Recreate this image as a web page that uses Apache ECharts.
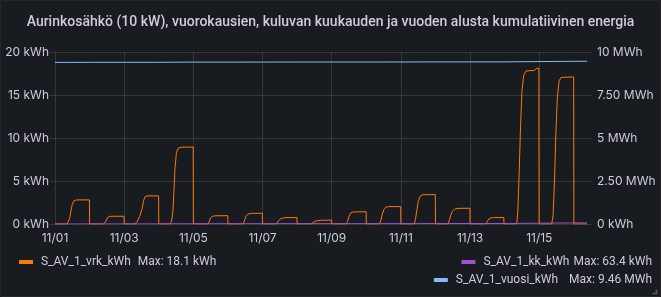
<!DOCTYPE html>
<html>
<head>
<meta charset="utf-8">
<script src="https://cdn.jsdelivr.net/npm/echarts@6/dist/echarts.min.js"></script>
<style>
html,body{margin:0;padding:0;background:#181b1f;}
#wrap{position:absolute;left:0;top:0;width:659px;height:295px;border:1px solid #24262b;border-radius:2px;background:#181b1f;}
#chart{position:absolute;left:-1px;top:-1px;width:661px;height:297px;}
</style>
</head>
<body>
<div id="wrap"><div id="chart"></div></div>
<script>
// Title and series names
const titleText = 'Aurinkosähkö (10 kW), vuorokausien, kuluvan kuukauden ja vuoden alusta kumulatiivinen energia';
const seriesNames = ['S_AV_1_vrk_kWh', 'S_AV_1_kk_kWh', 'S_AV_1_vuosi_kWh'];

// x = days since 11/01 00:00
const xTickLabels = ['11/01','11/02','11/03','11/04','11/05','11/06','11/07','11/08','11/09','11/10','11/11','11/12','11/13','11/14','11/15','11/16'];
const leftTickLabels = ['0 kWh','5 kWh','10 kWh','15 kWh','20 kWh'];
const rightTickLabels = ['0 kWh','2.50 MWh','5 MWh','7.50 MWh','10 MWh'];

// Daily cumulative energy (kWh), resets at midnight
const vrkData = [
  [0,0],[0.35,0],[0.38,0.1],[0.42,0.6],[0.46,1.5],[0.50,2.3],[0.55,2.7],[0.62,2.8],[0.995,2.8],[1.0,0],
  [1.40,0],[1.44,0.15],[1.47,0.3],[1.52,0.75],[1.58,0.88],[1.66,0.9],[1.995,0.9],[2.0,0],
  [2.31,0],[2.38,0.3],[2.45,0.9],[2.52,1.8],[2.56,2.7],[2.60,3.15],[2.66,3.27],[2.995,3.27],[3.0,0],
  [3.33,0],[3.37,0.3],[3.41,1.5],[3.44,4.0],[3.47,6.5],[3.51,8.3],[3.56,8.8],[3.65,8.93],[3.995,8.95],[4.0,0],
  [4.42,0],[4.46,0.3],[4.50,0.75],[4.56,0.9],[4.62,0.95],[4.995,0.97],[5.0,0],
  [5.43,0],[5.47,0.3],[5.52,0.9],[5.58,1.15],[5.66,1.24],[5.995,1.25],[6.0,0],
  [6.40,0],[6.45,0.3],[6.50,0.55],[6.57,0.68],[6.66,0.74],[6.995,0.75],[7.0,0],
  [7.40,0],[7.45,0.15],[7.52,0.32],[7.60,0.40],[7.70,0.43],[7.995,0.45],[8.0,0],
  [8.42,0],[8.46,0.3],[8.50,0.9],[8.55,1.3],[8.62,1.4],[8.995,1.42],[9.0,0],
  [9.38,0],[9.42,0.4],[9.46,1.1],[9.51,1.7],[9.56,1.95],[9.64,2.02],[9.995,2.02],[10.0,0],
  [10.38,0],[10.42,0.5],[10.46,1.6],[10.50,2.6],[10.55,3.2],[10.62,3.4],[10.995,3.42],[11.0,0],
  [11.35,0],[11.40,0.4],[11.44,1.0],[11.49,1.5],[11.55,1.72],[11.65,1.82],[11.995,1.83],[12.0,0],
  [12.46,0],[12.50,0.35],[12.55,0.62],[12.62,0.72],[12.68,0.74],[12.975,0.75],[12.98,0],
  [13.35,0],[13.38,1.5],[13.42,6],[13.46,11.5],[13.50,15.5],[13.55,17.3],[13.62,17.8],[13.85,17.85],[13.88,18.05],[13.93,18.1],[13.99,18.1],[13.995,0],
  [14.36,0],[14.40,1.0],[14.44,5],[14.48,10.5],[14.52,14.5],[14.57,16.6],[14.63,17.05],[14.995,17.1],[15.0,0],
  [15.38,0]
];

// Month-to-date cumulative energy (kWh)
const kkData = [
  [0,0],[1,2.8],[2,3.7],[3,7.0],[4,15.9],[5,16.9],[6,18.1],[7,18.9],[8,19.3],[9,20.7],
  [10,22.7],[11,26.1],[12,27.9],[13,28.6],[14,46.4],[15,63.4],[15.38,63.4]
];

// Year-to-date cumulative energy (kWh)
const vuosiData = [
  [0,9397],[1,9399.8],[2,9400.7],[3,9404],[4,9412.9],[5,9413.9],[6,9415.1],[7,9415.9],[8,9416.3],
  [9,9417.7],[10,9419.7],[11,9423.1],[12,9424.9],[13,9425.6],[14,9443.4],[15,9460],[15.38,9460]
];

const colors = ['#ff780a', '#a352cc', '#8ab8ff'];
const textColor = '#ccccdc';
const gridColor = 'rgba(240,250,255,0.12)';
const font = 'Roboto, "Noto Sans", sans-serif';
const font2 = 'Inter, "Noto Sans", sans-serif';

function maxOf(d){ return Math.max.apply(null, d.map(p => p[1])); }
function fmtEnergy(v){
  if (v >= 1000) return (Math.round(v/10)/100) + ' MWh';
  return (Math.round(v*10)/10) + ' kWh';
}
const maxTexts = [fmtEnergy(maxOf(vrkData)), fmtEnergy(maxOf(kkData)), fmtEnergy(maxOf(vuosiData))];

function legendCfg(i, pos, gap){
  return Object.assign({
    data: [seriesNames[i]],
    icon: 'rect', itemWidth: 14, itemHeight: 4, padding: 0,
    selectedMode: false,
    formatter: n => '{n|' + n + '}{m|Max: ' + maxTexts[i] + '}',
    textStyle: {
      color: textColor, fontFamily: font, fontSize: 12,
      rich: {
        n: {color: textColor, fontFamily: font, fontSize: 12, padding: [0,0,0,3]},
        m: {color: textColor, fontFamily: font, fontSize: 12, padding: [0,0,0,gap]}
      }
    }
  }, pos);
}

const chart = echarts.init(document.getElementById('chart'), null, {renderer: 'canvas'});
chart.setOption({
  backgroundColor: 'transparent',
  animation: false,
  title: {
    text: titleText, left: 'center', top: 10,
    textStyle: {color: textColor, fontFamily: font, fontSize: 14, fontWeight: 500}
  },
  grid: {left: 55, right: 74, top: 52, bottom: 73, containLabel: false},
  legend: [
    legendCfg(0, {left: 19, top: 256}, 7),
    legendCfg(1, {right: 9, top: 256}, 4),
    legendCfg(2, {right: 9, top: 274}, 11)
  ],
  xAxis: {
    type: 'value', min: 0, max: 15.38, interval: 2,
    axisLine: {show: false}, axisTick: {show: false},
    splitLine: {show: true, showMaxLine: false, lineStyle: {color: gridColor, width: 1}},
    axisLabel: {
      color: textColor, fontFamily: font2, fontSize: 12, margin: 8,
      formatter: v => (Math.abs(v - Math.round(v)) < 1e-6 && Math.round(v) % 2 === 0) ? xTickLabels[Math.round(v)] : '',
      showMaxLabel: false
    }
  },
  yAxis: [
    {
      type: 'value', min: 0, max: 20, interval: 5, position: 'left',
      axisLine: {show: false},
      axisTick: {show: true, length: 5, lineStyle: {color: gridColor}},
      splitLine: {show: true, lineStyle: {color: gridColor, width: 1}},
      axisLabel: {color: textColor, fontFamily: font2, fontSize: 12, margin: 6,
        formatter: v => leftTickLabels[Math.round(v/5)]}
    },
    {
      type: 'value', min: 0, max: 10000, interval: 2500, position: 'right',
      axisLine: {show: false},
      axisTick: {show: true, length: 5, lineStyle: {color: gridColor}},
      splitLine: {show: false},
      axisLabel: {color: textColor, fontFamily: font2, fontSize: 12, margin: 10,
        formatter: v => rightTickLabels[Math.round(v/2500)]}
    }
  ],
  series: [
    {name: seriesNames[0], type: 'line', yAxisIndex: 0, data: vrkData, showSymbol: false,
     lineStyle: {color: colors[0], width: 1}, itemStyle: {color: colors[0]}},
    {name: seriesNames[1], type: 'line', yAxisIndex: 1, data: kkData, showSymbol: false,
     lineStyle: {color: colors[1], width: 1}, itemStyle: {color: colors[1]}},
    {name: seriesNames[2], type: 'line', yAxisIndex: 1, data: vuosiData, showSymbol: false,
     lineStyle: {color: colors[2], width: 1}, itemStyle: {color: colors[2]}}
  ],
  graphic: [{
    type: 'polyline', silent: true,
    shape: {points: [[652.5, 293.5], [656.5, 293.5], [656.5, 289.5]]},
    style: {stroke: '#5c5e66', lineWidth: 1.5, fill: null}
  }]
});
</script>
</body>
</html>
